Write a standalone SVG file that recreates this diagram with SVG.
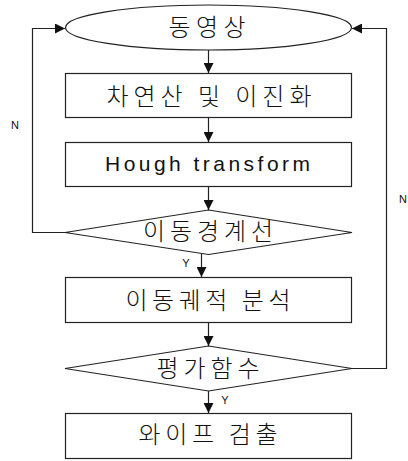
<svg xmlns="http://www.w3.org/2000/svg" width="408" height="461" viewBox="0 0 408 461">
<style>
.s{fill:#fff;stroke:#222;stroke-width:1.2}
.t{font-family:"Noto Sans CJK KR","Liberation Sans",sans-serif;font-size:24px;font-weight:300;fill:#111;text-anchor:middle;dominant-baseline:central}
.e{font-family:"Liberation Sans",sans-serif;font-size:21px;fill:#111;text-anchor:middle}
.l{font-family:"Liberation Sans",sans-serif;font-size:11px;fill:#111;text-anchor:middle}
.c{fill:none;stroke:#222;stroke-width:1.2;marker-end:url(#a)}
</style>
<defs>
<marker id="a" viewBox="0 0 10 10" refX="10" refY="5" markerWidth="10" markerHeight="10" markerUnits="userSpaceOnUse" orient="auto">
<path d="M0,0 L10,5 L0,10 Z" fill="#111"/>
</marker>
</defs>
<g id="n1"><ellipse class="s" cx="208.5" cy="27.5" rx="143" ry="22.5"/><text class="t" x="207" y="25.5" textLength="77" lengthAdjust="spacing">동영상</text></g>
<g id="n2"><rect class="s" x="65.5" y="73.5" width="286" height="44"/><text class="t" x="209" y="94" textLength="205" lengthAdjust="spacing">차연산 및 이진화</text></g>
<g id="n3"><rect class="s" x="65.5" y="142.5" width="286" height="44"/><text class="e" x="207.5" y="170.5" textLength="205" lengthAdjust="spacing">Hough transform</text></g>
<g id="n4"><polygon class="s" points="208.5,210 352,232.5 208.5,254.5 65,232.5"/><text class="t" x="208" y="229" textLength="130" lengthAdjust="spacing">이동경계선</text></g>
<g id="n5"><rect class="s" x="65.5" y="277.5" width="286" height="45"/><text class="t" x="208" y="298.5" textLength="165" lengthAdjust="spacing">이동궤적 분석</text></g>
<g id="n6"><polygon class="s" points="208.5,346 352,368.5 208.5,391 65,368.5"/><text class="t" x="208" y="366" textLength="103" lengthAdjust="spacing">평가함수</text></g>
<g id="n7"><rect class="s" x="65.5" y="413.5" width="286" height="45"/><text class="t" x="208" y="432.5" textLength="139" lengthAdjust="spacing">와이프 검출</text></g>
<g id="connectors">
<path class="c" d="M208.5,50 V73"/>
<path class="c" d="M208.5,118 V142"/>
<path class="c" d="M208.5,187 V210"/>
<path class="c" d="M201.5,254 V277"/>
<path class="c" d="M208.5,323 V346"/>
<path class="c" d="M208.5,391 V413"/>
<path class="c" d="M65,232.5 H32.5 V28.5 H65"/>
<path class="c" d="M352,368.5 H386.5 V28.5 H352"/>
<text class="l" x="15" y="129">N</text>
<text class="l" x="403" y="203">N</text>
<text class="l" x="186" y="267">Y</text>
<text class="l" x="225" y="404">Y</text>
</g>
</svg>
